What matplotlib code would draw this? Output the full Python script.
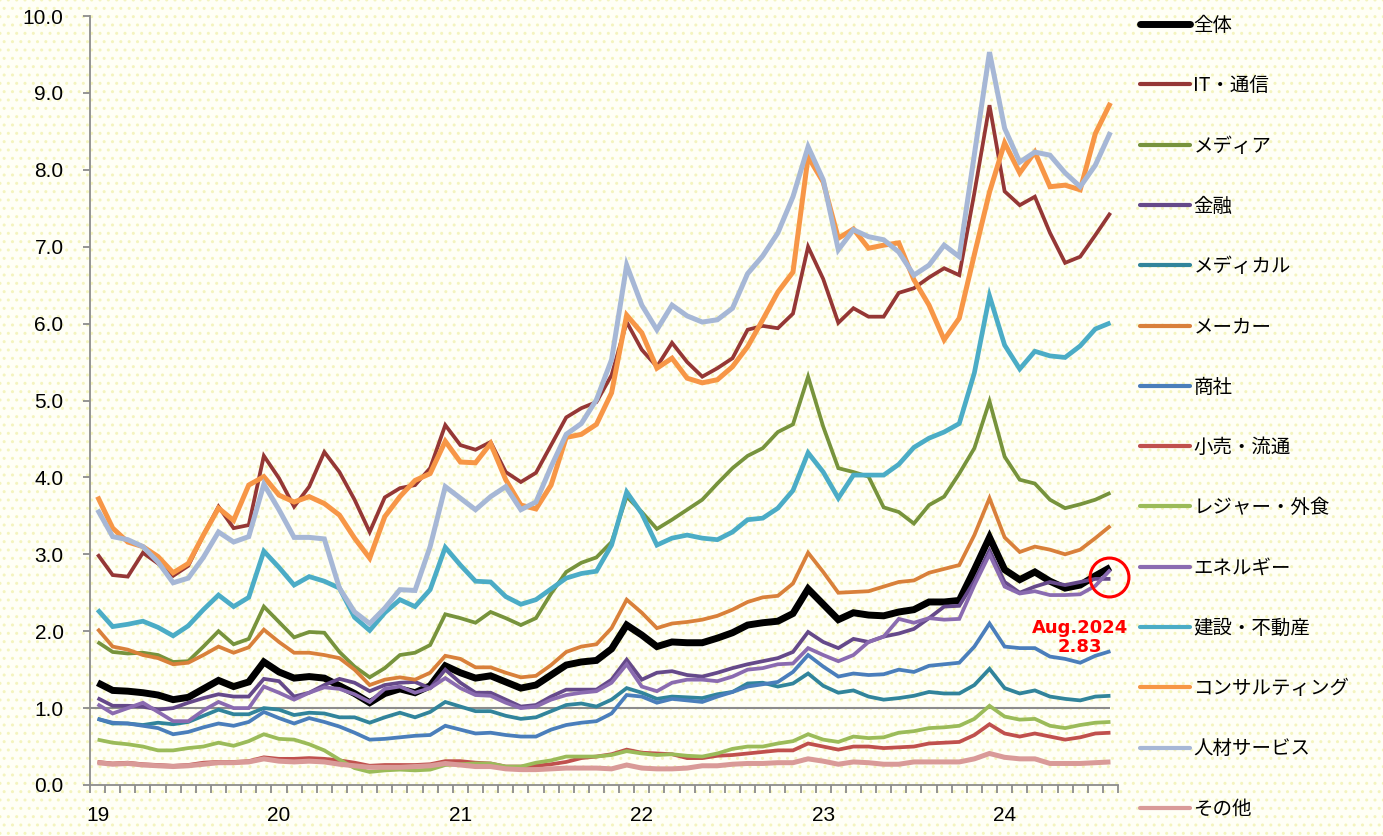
import matplotlib
matplotlib.use("Agg")
import matplotlib.pyplot as plt
from matplotlib.patches import Rectangle
from matplotlib.lines import Line2D
from matplotlib.ticker import FixedLocator, FuncFormatter
import numpy as np

# ---------------- data (monthly, Jan 2019 - Aug 2024) ----------------
year_labels = ["19", "20", "21", "22", "23", "24"]
annot_label = "Aug.2024"

series_names = ["全体", "IT・通信", "メディア", "金融", "メディカル", "メーカー", "商社",
                "小売・流通", "レジャー・外食", "エネルギー", "建設・不動産",
                "コンサルティング", "人材サービス", "その他"]

total = [1.33,1.23,1.22,1.20,1.17,1.11,1.14,1.25,1.36,1.28,1.34,1.60,
         1.47,1.39,1.41,1.39,1.29,1.19,1.07,1.19,1.25,1.20,1.29,1.55,
         1.46,1.39,1.42,1.34,1.26,1.30,1.43,1.56,1.60,1.62,1.77,2.08,
         1.95,1.80,1.86,1.85,1.85,1.91,1.98,2.08,2.11,2.13,2.23,2.55,
         2.35,2.15,2.24,2.21,2.20,2.25,2.28,2.38,2.38,2.40,2.80,3.22,
         2.80,2.67,2.77,2.65,2.56,2.60,2.72,2.83]
it_tsushin = [3.00,2.73,2.71,3.02,2.88,2.72,2.85,3.25,3.62,3.34,3.38,4.28,
              3.99,3.62,3.88,4.33,4.07,3.71,3.29,3.74,3.86,3.90,4.12,4.68,
              4.42,4.36,4.46,4.07,3.94,4.06,4.42,4.78,4.90,4.98,5.33,6.02,
              5.66,5.44,5.75,5.50,5.31,5.42,5.55,5.92,5.97,5.94,6.13,7.00,
              6.58,6.01,6.20,6.09,6.09,6.40,6.46,6.60,6.72,6.63,7.70,8.84,
              7.72,7.54,7.65,7.18,6.79,6.87,7.15,7.44]
media = [1.86,1.73,1.71,1.72,1.69,1.60,1.61,1.80,2.00,1.83,1.90,2.32,
         2.12,1.92,1.99,1.98,1.73,1.54,1.40,1.52,1.69,1.72,1.82,2.22,
         2.17,2.11,2.25,2.17,2.08,2.17,2.49,2.77,2.89,2.96,3.16,3.75,
         3.55,3.33,3.45,3.58,3.71,3.92,4.12,4.28,4.38,4.59,4.69,5.31,
         4.66,4.12,4.07,4.01,3.61,3.55,3.40,3.64,3.75,4.05,4.38,4.99,
         4.27,3.97,3.92,3.71,3.60,3.65,3.71,3.80]
kinyu = [1.13,1.03,1.03,1.02,0.98,1.00,1.07,1.13,1.18,1.15,1.15,1.38,
         1.35,1.15,1.20,1.30,1.38,1.33,1.22,1.30,1.33,1.34,1.26,1.50,
         1.33,1.20,1.20,1.11,1.02,1.04,1.15,1.24,1.24,1.24,1.37,1.63,
         1.37,1.46,1.48,1.43,1.41,1.46,1.52,1.57,1.61,1.65,1.73,1.99,
         1.86,1.78,1.90,1.86,1.93,1.97,2.03,2.17,2.32,2.33,2.65,3.05,
         2.64,2.50,2.58,2.64,2.60,2.64,2.68,2.68]
medical = [0.86,0.80,0.80,0.78,0.81,0.79,0.82,0.90,0.98,0.92,0.92,1.00,
           0.98,0.91,0.94,0.93,0.88,0.88,0.81,0.88,0.94,0.88,0.95,1.08,
           1.02,0.96,0.96,0.90,0.86,0.88,0.96,1.04,1.06,1.02,1.11,1.26,
           1.20,1.12,1.15,1.14,1.13,1.18,1.21,1.32,1.33,1.28,1.32,1.45,
           1.29,1.20,1.23,1.15,1.11,1.13,1.16,1.21,1.19,1.19,1.30,1.51,
           1.26,1.19,1.23,1.15,1.12,1.10,1.15,1.16]
maker = [2.03,1.80,1.76,1.69,1.65,1.57,1.59,1.69,1.80,1.72,1.79,2.02,
         1.86,1.72,1.72,1.69,1.65,1.50,1.30,1.37,1.40,1.37,1.46,1.68,
         1.64,1.53,1.53,1.46,1.40,1.42,1.56,1.73,1.80,1.83,2.04,2.41,
         2.24,2.04,2.10,2.12,2.15,2.20,2.28,2.38,2.44,2.46,2.62,3.02,
         2.77,2.50,2.51,2.52,2.58,2.64,2.66,2.76,2.81,2.86,3.25,3.73,
         3.22,3.03,3.10,3.06,3.00,3.06,3.21,3.37]
shosha = [0.86,0.81,0.80,0.77,0.74,0.66,0.69,0.75,0.80,0.77,0.82,0.95,
          0.87,0.80,0.87,0.82,0.76,0.68,0.59,0.60,0.62,0.64,0.65,0.77,
          0.72,0.67,0.68,0.65,0.63,0.63,0.72,0.78,0.81,0.83,0.93,1.17,
          1.15,1.07,1.12,1.10,1.08,1.15,1.21,1.28,1.31,1.34,1.47,1.69,
          1.54,1.41,1.45,1.43,1.44,1.50,1.47,1.55,1.57,1.59,1.80,2.10,
          1.80,1.78,1.78,1.67,1.64,1.59,1.68,1.74]
kouri = [0.30,0.28,0.29,0.27,0.26,0.25,0.26,0.29,0.30,0.30,0.31,0.36,
         0.34,0.34,0.35,0.34,0.32,0.29,0.25,0.26,0.26,0.26,0.27,0.31,
         0.31,0.29,0.28,0.24,0.24,0.25,0.27,0.30,0.35,0.37,0.40,0.46,
         0.42,0.41,0.40,0.35,0.35,0.38,0.39,0.41,0.43,0.45,0.45,0.54,
         0.50,0.46,0.50,0.50,0.48,0.49,0.50,0.54,0.55,0.56,0.65,0.79,
         0.67,0.63,0.67,0.63,0.59,0.62,0.67,0.68]
leisure = [0.59,0.55,0.53,0.50,0.45,0.45,0.48,0.50,0.55,0.51,0.57,0.66,
           0.60,0.59,0.53,0.45,0.33,0.22,0.17,0.19,0.20,0.19,0.20,0.26,
           0.27,0.28,0.28,0.24,0.24,0.29,0.32,0.37,0.37,0.37,0.39,0.44,
           0.41,0.39,0.40,0.38,0.37,0.41,0.47,0.50,0.50,0.54,0.57,0.66,
           0.59,0.56,0.63,0.61,0.62,0.68,0.70,0.74,0.75,0.77,0.86,1.03,
           0.89,0.85,0.86,0.77,0.74,0.78,0.81,0.82]
energy = [1.05,0.93,1.00,1.07,0.95,0.83,0.83,0.97,1.08,1.00,1.00,1.28,
          1.20,1.11,1.20,1.27,1.25,1.18,1.08,1.25,1.28,1.20,1.26,1.39,
          1.26,1.17,1.16,1.07,1.00,1.02,1.11,1.17,1.20,1.22,1.33,1.57,
          1.28,1.22,1.33,1.37,1.37,1.35,1.41,1.50,1.52,1.57,1.58,1.78,
          1.69,1.61,1.69,1.86,1.93,2.16,2.11,2.17,2.15,2.16,2.60,3.00,
          2.58,2.49,2.52,2.47,2.47,2.48,2.59,2.80]
kensetsu = [2.28,2.06,2.09,2.13,2.05,1.94,2.07,2.28,2.47,2.32,2.44,3.04,
            2.83,2.60,2.71,2.65,2.56,2.18,2.01,2.24,2.41,2.32,2.54,3.09,
            2.86,2.65,2.64,2.45,2.35,2.41,2.55,2.69,2.75,2.78,3.12,3.81,
            3.53,3.12,3.21,3.25,3.21,3.19,3.29,3.45,3.47,3.60,3.83,4.32,
            4.07,3.73,4.03,4.03,4.03,4.17,4.39,4.51,4.59,4.70,5.36,6.36,
            5.72,5.41,5.64,5.58,5.56,5.71,5.93,6.01]
consulting = [3.75,3.34,3.16,3.10,2.97,2.76,2.88,3.25,3.60,3.44,3.90,4.01,
              3.77,3.68,3.75,3.66,3.51,3.21,2.95,3.49,3.75,3.96,4.05,4.47,
              4.20,4.19,4.44,3.97,3.64,3.59,3.90,4.52,4.56,4.69,5.10,6.11,
              5.88,5.42,5.55,5.29,5.23,5.27,5.44,5.70,6.05,6.41,6.67,8.17,
              7.84,7.11,7.23,6.98,7.02,7.05,6.57,6.24,5.79,6.07,6.90,7.71,
              8.35,7.96,8.23,7.78,7.80,7.74,8.47,8.87]
jinzai = [3.58,3.23,3.19,3.10,2.90,2.63,2.69,2.96,3.29,3.16,3.23,3.91,
          3.58,3.22,3.22,3.20,2.56,2.25,2.10,2.30,2.54,2.53,3.10,3.88,
          3.73,3.58,3.75,3.88,3.58,3.68,4.14,4.56,4.70,5.01,5.53,6.76,
          6.24,5.92,6.24,6.10,6.02,6.05,6.20,6.65,6.88,7.18,7.65,8.30,
          7.87,6.96,7.22,7.13,7.09,6.93,6.63,6.76,7.02,6.87,8.20,9.53,
          8.54,8.10,8.23,8.19,7.96,7.78,8.06,8.49]
sonota = [0.29,0.27,0.28,0.26,0.25,0.24,0.25,0.27,0.29,0.29,0.30,0.34,
          0.31,0.30,0.31,0.30,0.27,0.25,0.23,0.23,0.23,0.24,0.25,0.28,
          0.26,0.24,0.24,0.21,0.20,0.20,0.21,0.22,0.22,0.22,0.21,0.26,
          0.22,0.21,0.21,0.22,0.25,0.25,0.27,0.28,0.28,0.29,0.29,0.34,
          0.31,0.27,0.30,0.29,0.27,0.27,0.30,0.30,0.30,0.30,0.34,0.41,
          0.36,0.34,0.34,0.28,0.28,0.28,0.29,0.30]
reference_level = 1.0

series_values = [total, it_tsushin, media, kinyu, medical, maker, shosha,
                 kouri, leisure, energy, kensetsu, consulting, jinzai, sonota]

# ---------------- styles ----------------
colors = ["#000000", "#953735", "#77933C", "#65498A", "#31849B", "#D9803A",
          "#4A7EBB", "#C0504D", "#9BBB59", "#8A6BB0", "#4BACC6", "#F79646",
          "#A6B7D6", "#D99A98"]
widths = [5.0, 2.7, 2.7, 2.7, 2.7, 2.7, 2.7, 2.7, 2.7, 2.7, 3.4, 3.6, 3.6, 3.6]

num_font = "Liberation Sans"
jp_font = ["Noto Sans CJK JP", "DejaVu Sans"]

plt.rcParams["hatch.linewidth"] = 1.0

W, H = 1383, 836
fig = plt.figure(figsize=(W / 100, H / 100), dpi=100)
fig.patch.set_facecolor("#FFFFF6")
bg = Rectangle((0, 0), 1, 1, transform=fig.transFigure, facecolor="#FFFFF6",
               edgecolor="#F4F4BE", hatch="..", linewidth=0.0, zorder=-10)
fig.add_artist(bg)

ax = fig.add_axes([90 / W, 1 - 785 / H, (1118 - 90) / W, (785 - 16) / H])
ax.set_facecolor("none")

n = len(total)
x = np.arange(n)

ax.hlines(reference_level, -0.5, n - 1, color="#8C8C8C", lw=1.5, zorder=1)

handles = []
for name, vals, c, w in zip(series_names, series_values, colors, widths):
    ax.plot(x, vals, color=c, lw=w, solid_joinstyle="miter",
            solid_capstyle="butt", zorder=2)
    handles.append(Line2D([], [], color=c, lw=(w if name == "全体" else 3.0),
                          solid_capstyle="round"))

ax.set_xlim(-0.5, n - 0.5)
ax.set_ylim(0, 10)

# axes styling
for s in ["top", "right"]:
    ax.spines[s].set_visible(False)
for s in ["left", "bottom"]:
    ax.spines[s].set_color("#8C8C8C")
    ax.spines[s].set_linewidth(1.3)

ax.set_yticks(np.arange(0, 11, 1))
ax.yaxis.set_major_formatter(FuncFormatter(lambda v, p: f"{v:.1f}"))
ax.tick_params(axis="y", direction="out", length=5, width=1.3, color="#8C8C8C",
               pad=14, labelsize=15)

ax.set_xticks(np.arange(0, n, 12))
ax.set_xticklabels(year_labels[: len(np.arange(0, n, 12))])
ax.xaxis.set_minor_locator(FixedLocator(np.arange(-0.5, n, 1)))
ax.tick_params(axis="x", which="major", length=0, pad=15, labelsize=15)
ax.tick_params(axis="x", which="minor", direction="out", length=6, width=1.3,
               color="#8C8C8C")
for lab in ax.get_xticklabels() + ax.get_yticklabels():
    lab.set_fontfamily(num_font)

# annotation of the last point
ax.plot([n - 1.1], [total[-1] - 0.13], marker="o", ms=28, mfc="none",
        mec="#FF0000", mew=2.2, zorder=5, clip_on=False)
ax.text(n - 3.0, total[-1] - 0.91, f"{annot_label}\n{total[-1]:.2f}",
        ha="center", va="center", color="#FF0000", fontsize=13,
        fontweight="bold", family="DejaVu Sans", linespacing=1.05, zorder=5)

leg = fig.legend(handles, series_names, loc="upper left",
                 bbox_to_anchor=(1140 / W, 1 - 15 / H), frameon=False,
                 prop={"family": jp_font, "size": 14}, handlelength=2.55,
                 handletextpad=0.2, labelspacing=2.02, borderaxespad=0,
                 borderpad=0)

fig.savefig("out.png", dpi=100, facecolor=fig.get_facecolor())
